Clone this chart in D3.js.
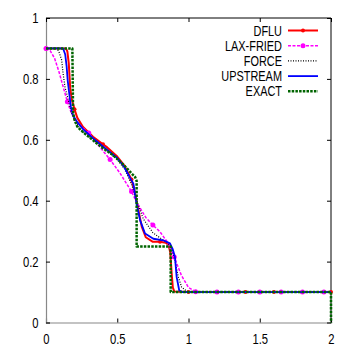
<!DOCTYPE html>
<html>
<head>
<meta charset="utf-8">
<script src="https://cdn.jsdelivr.net/npm/d3@7"></script>
<style>
  body { margin: 0; background: #fff; }
  text { font-family: "Liberation Sans", Arial, sans-serif; }
</style>
</head>
<body>
<div id="chart"></div>
<script>
// tick labels
var xTicks = [0, 0.5, 1, 1.5, 2];
var yTicks = [0, 0.2, 0.4, 0.6, 0.8, 1];

// DFLU (markers every 0.2)
var dfluX = [0, 0.14, 0.15, 0.16, 0.165, 0.17, 0.18, 0.2, 0.22, 0.26, 0.33, 0.4, 0.43, 0.5, 0.55, 0.6, 0.625, 0.648, 0.672, 0.7, 0.75, 0.8, 0.84, 0.86, 0.872, 0.882, 0.89, 0.9, 1.0, 1.2, 1.4, 1.6, 1.8, 2.0];
var dfluY = [0.9, 0.9, 0.89, 0.85, 0.81, 0.77, 0.735, 0.7, 0.672, 0.642, 0.61, 0.585, 0.575, 0.545, 0.515, 0.47, 0.425, 0.37, 0.315, 0.28, 0.265, 0.265, 0.262, 0.255, 0.23, 0.16, 0.115, 0.102, 0.1, 0.1, 0.1, 0.1, 0.1, 0.1];

// LAX-FRIED (markers every 0.15)
var laxX = [0, 0.03, 0.06, 0.09, 0.12, 0.15, 0.18, 0.22, 0.3, 0.38, 0.45, 0.52, 0.6, 0.636, 0.7, 0.75, 0.8, 0.85, 0.9, 0.95, 1.0, 1.05, 1.2, 1.35, 1.5, 1.65, 1.8, 1.95, 2.0];
var laxY = [0.9, 0.892, 0.868, 0.825, 0.775, 0.725, 0.685, 0.655, 0.622, 0.575, 0.535, 0.49, 0.43, 0.395, 0.345, 0.32, 0.298, 0.265, 0.215, 0.155, 0.115, 0.101, 0.1, 0.1, 0.1, 0.1, 0.1, 0.1, 0.1];

// FORCE
var forceX = [0, 0.075, 0.09, 0.11, 0.12, 0.133, 0.157, 0.18, 0.2, 0.24, 0.3, 0.4, 0.5, 0.55, 0.6, 0.625, 0.683, 0.75, 0.8, 0.85, 0.88, 0.905, 0.928, 0.952, 0.99, 1.02, 2.0];
var forceY = [0.9, 0.9, 0.89, 0.862, 0.818, 0.774, 0.73, 0.686, 0.665, 0.635, 0.612, 0.575, 0.535, 0.505, 0.455, 0.415, 0.34, 0.295, 0.278, 0.262, 0.248, 0.204, 0.15, 0.116, 0.102, 0.1, 0.1];

// UPSTREAM
var upX = [0, 0.12, 0.135, 0.145, 0.152, 0.163, 0.175, 0.19, 0.22, 0.26, 0.33, 0.4, 0.5, 0.55, 0.59, 0.613, 0.636, 0.66, 0.695, 0.753, 0.823, 0.87, 0.89, 0.905, 0.917, 0.935, 0.96, 2.0];
var upY = [0.9, 0.9, 0.88, 0.84, 0.796, 0.752, 0.708, 0.68, 0.658, 0.635, 0.605, 0.578, 0.54, 0.51, 0.475, 0.456, 0.39, 0.336, 0.292, 0.275, 0.27, 0.26, 0.24, 0.215, 0.149, 0.105, 0.1, 0.1];

// EXACT
var exactX = [0, 0.185, 0.19, 0.2, 0.22, 0.26, 0.3, 0.36, 0.4, 0.47, 0.54, 0.6, 0.625, 0.636, 0.636, 0.875, 0.875, 2, 2];
var exactY = [0.9, 0.9, 0.69, 0.665, 0.643, 0.625, 0.61, 0.587, 0.572, 0.55, 0.52, 0.49, 0.478, 0.465, 0.25, 0.25, 0.1, 0.1, 0];

(function() {
var W = 354, H = 354;
var mLeft = 46, mRight = 331, mTop = 18, mBottom = 322.5;

var svg = d3.select("#chart").append("svg")
    .attr("width", W)
    .attr("height", H);

var x = d3.scaleLinear().domain([0, 2]).range([mLeft, mRight]);
var y = d3.scaleLinear().domain([0, 1]).range([mBottom, mTop]);

function zip(xs, ys) { return xs.map(function(v, i) { return [v, ys[i]]; }); }

var series = [
  {name: "DFLU", pts: zip(dfluX, dfluY), color: "#ff0000", width: 2, dash: null, every: 0.2, r: 2},
  {name: "LAX-FRIED", pts: zip(laxX, laxY), color: "#ff00ff", width: 1.5, dash: "3,1.5", every: 0.15, r: 2.5},
  {name: "FORCE", pts: zip(forceX, forceY), color: "#000000", width: 1.2, dash: "1,1.5", every: null},
  {name: "UPSTREAM", pts: zip(upX, upY), color: "#0000ff", width: 1.8, dash: null, every: null},
  {name: "EXACT", pts: zip(exactX, exactY), color: "#006400", width: 2.5, dash: "2.5,1.2", every: null}
];

// frame: top and right black, left and bottom gray
svg.append("line").attr("x1", mLeft).attr("x2", mRight).attr("y1", mTop).attr("y2", mTop)
    .attr("stroke", "#000").attr("stroke-width", 1);
svg.append("line").attr("x1", mRight).attr("x2", mRight).attr("y1", mTop).attr("y2", mBottom)
    .attr("stroke", "#000").attr("stroke-width", 1);

// axes, ticks pointing inward
var gx = svg.append("g").attr("transform", "translate(0," + mBottom + ")")
    .call(d3.axisBottom(x).tickValues(xTicks).tickSize(-4).tickFormat(d3.format("~g")));
var gy = svg.append("g").attr("transform", "translate(" + mLeft + ",0)")
    .call(d3.axisLeft(y).tickValues(yTicks).tickSize(-4).tickFormat(d3.format("~g")));
svg.append("g").attr("transform", "translate(0," + mTop + ")")
    .call(d3.axisTop(x).tickValues(xTicks).tickSize(-4).tickFormat(""))
    .select(".domain").remove();
svg.append("g").attr("transform", "translate(" + mRight + ",0)")
    .call(d3.axisRight(y).tickValues(yTicks).tickSize(-4).tickFormat(""))
    .select(".domain").remove();

[gx, gy].forEach(function(g) {
  g.select(".domain").attr("stroke", "#888").attr("stroke-width", 1.2);
  g.selectAll("text").attr("font-size", 15).attr("fill", "#000")
      .style("font-family", "'Liberation Sans', Arial, sans-serif");
});
gx.selectAll("text").attr("y", 11).attr("transform", "scale(0.75,1)");
gy.selectAll("text").attr("x", -10).attr("transform", "scale(0.75,1)");

var line = d3.line().x(function(d) { return x(d[0]); }).y(function(d) { return y(d[1]); });

series.forEach(function(s) {
  svg.append("path")
      .attr("d", line(s.pts))
      .attr("fill", "none")
      .attr("stroke", s.color)
      .attr("stroke-width", s.width)
      .attr("stroke-dasharray", s.dash)
      .attr("stroke-linejoin", "round");
  if (s.every) {
    var marks = s.pts.filter(function(d) {
      var k = d[0] / s.every;
      return Math.abs(k - Math.round(k)) < 1e-6;
    });
    svg.selectAll(null).data(marks).enter().append("circle")
        .attr("cx", function(d) { return x(d[0]); })
        .attr("cy", function(d) { return y(d[1]); })
        .attr("r", s.r)
        .attr("fill", s.color);
  }
});

// legend
var legend = svg.append("g");
series.forEach(function(s, i) {
  var ly = 30.5 + i * 15.2;
  legend.append("text")
      .attr("transform", "translate(282," + (ly + 5) + ") scale(0.78,1)")
      .attr("text-anchor", "end")
      .attr("font-size", 14)
      .text(s.name);
  legend.append("line")
      .attr("x1", 288).attr("x2", 318).attr("y1", ly).attr("y2", ly)
      .attr("stroke", s.color)
      .attr("stroke-width", s.width)
      .attr("stroke-dasharray", s.dash);
  if (s.every) {
    legend.append("circle").attr("cx", 303).attr("cy", ly).attr("r", s.r).attr("fill", s.color);
  }
});
})();
</script>
</body>
</html>
